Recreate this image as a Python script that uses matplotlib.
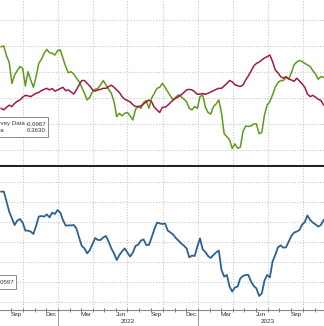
import matplotlib
matplotlib.use("Agg")
import matplotlib.pyplot as plt
import matplotlib.dates as mdates
from matplotlib.patches import Rectangle
import pandas as pd

plt.rcParams['font.family'] = ['Liberation Sans', 'DejaVu Sans']

# weekly observations
dates = pd.date_range('2021-08-06', periods=121, freq='7D')

survey = [
    0.97, 1.00, 0.62, 0.36, -0.44, -0.12, 0.05, 0.21, 0.14, -0.54,
    0.01, -0.31, -0.59, -0.18, 0.33, 0.49, 0.72, 0.87, 0.74, 0.72,
    0.65, 0.82, 0.85, 0.53, 0.21, -0.03, 0.01, -0.08, -0.24, -0.37,
    -0.59, -0.82, -1.08, -0.97, -0.76, -0.67, -0.63, -0.50, -0.33, -0.50,
    -0.67, -0.82, -1.14, -1.72, -1.59, -1.69, -1.59, -1.56, -1.69, -1.85,
    -1.44, -1.33, -1.40, -1.18, -1.10, -1.40, -1.01, -0.82, -0.63, -0.59,
    -0.44, -0.59, -0.76, -0.92, -1.08, -0.97, -0.88, -0.95, -1.05, -1.14,
    -1.40, -1.46, -1.33, -1.40, -0.95, -0.88, -1.36, -1.56, -1.62, -1.33,
    -1.23, -1.08, -1.59, -2.38, -2.49, -2.62, -2.94, -2.77, -2.94, -2.90,
    -2.29, -2.08, -2.10, -2.08, -2.00, -2.00, -2.38, -2.33, -1.65, -1.27,
    -1.14, -0.88, -0.59, -0.41, -0.33, -0.33, -0.21, -0.28, -0.03, 0.27,
    0.38, 0.44, 0.40, 0.33, 0.27, 0.21, 0.05, -0.08, -0.28, -0.18,
    -0.21,
]

beta = [
    -1.40, -1.46, -1.36, -1.28, -1.33, -1.21, -1.13, -1.08, -0.97, -0.90,
    -0.92, -0.95, -0.88, -0.82, -0.79, -0.72, -0.67, -0.63, -0.69, -0.64,
    -0.74, -0.69, -0.64, -0.59, -0.72, -0.69, -0.77, -0.85, -0.69, -0.50,
    -0.33, -0.33, -0.44, -0.54, -0.69, -0.74, -0.69, -0.67, -0.63, -0.63,
    -0.56, -0.51, -0.59, -0.69, -0.79, -0.95, -1.05, -1.10, -1.15, -1.26,
    -1.33, -1.33, -1.31, -1.23, -1.15, -1.08, -1.15, -1.36, -1.46, -1.56,
    -1.36, -1.36, -1.28, -1.18, -1.08, -1.01, -0.95, -0.88, -0.79, -0.69,
    -0.67, -0.69, -0.76, -0.86, -0.85, -0.83, -0.86, -0.82, -0.77, -0.72,
    -0.67, -0.63, -0.63, -0.54, -0.44, -0.33, -0.38, -0.49, -0.53, -0.56,
    -0.50, -0.31, -0.15, 0.03, 0.23, 0.33, 0.38, 0.46, 0.54, 0.59,
    0.65, 0.40, 0.08, -0.03, -0.18, -0.24, -0.18, -0.26, -0.31, -0.36,
    -0.24, -0.35, -0.46, -0.59, -0.85, -0.95, -0.90, -0.97, -1.05, -1.10,
    -1.27,
]

spread = [
    5.52, 5.52, 5.02, 4.52, 4.18, 3.85, 4.07, 4.15, 3.97, 3.57,
    3.57, 3.52, 3.40, 3.80, 4.27, 4.30, 4.27, 4.38, 4.23, 4.47,
    4.40, 4.60, 4.47, 4.10, 3.82, 3.83, 3.83, 3.85, 3.68, 3.23,
    2.80, 2.68, 2.43, 2.60, 2.90, 3.20, 3.10, 3.10, 3.23, 3.30,
    3.02, 2.68, 2.43, 2.10, 2.35, 2.53, 2.68, 2.47, 2.27, 2.47,
    2.80, 2.87, 3.07, 3.13, 2.85, 2.85, 3.23, 3.63, 3.97, 3.93,
    3.90, 3.93, 3.57, 3.48, 3.37, 3.20, 3.07, 2.93, 2.82, 2.68,
    2.23, 2.32, 2.30, 2.77, 3.18, 2.63, 2.50, 2.30, 2.20, 2.35,
    2.48, 2.57, 1.60, 1.27, 1.35, 0.77, 0.52, 0.73, 0.77, 1.18,
    1.30, 1.35, 1.35, 1.02, 0.80, 0.68, 0.30, 0.43, 1.07, 1.35,
    1.23, 2.02, 2.35, 2.73, 2.83, 2.72, 2.73, 3.02, 3.30, 3.47,
    3.52, 3.60, 3.87, 4.00, 4.33, 4.10, 3.97, 3.88, 3.77, 3.85,
    4.10,
]

legend_top = [('Survey Data', '-0.6967'), ('Beta', '0.3630')]
legend_bottom = [('Spread', '-0.0597')]
years = [2022, 2023]

W, H = 324, 326
GREEN = '#5f9a1c'
MAROON = '#a01a44'
BLUE = '#2b6291'
GRID = '#c8c8c8'


def fx(px):
    return px / W


def fy(py):
    return 1 - py / H


fig = plt.figure(figsize=(W / 100, H / 100), dpi=100)
ax1 = fig.add_axes([0, fy(166), 1, 166 / H])
ax2 = fig.add_axes([0, fy(310), 1, 143 / H])

xmin, xmax = pd.Timestamp('2021-08-03'), pd.Timestamp('2023-11-25')
quarters = pd.date_range('2021-10-01', '2023-10-01', freq='QS')

for ax in (ax1, ax2):
    ax.set_xlim(xmin, xmax)
    for s in ('left', 'right', 'top'):
        ax.spines[s].set_visible(False)
    for q in quarters:
        ax.axvline(q, color=GRID, lw=0.8, ls=(0, (1, 1.5)), zorder=0)
    ax.tick_params(left=False, labelleft=False)

# top panel
ax1.set_ylim(-3.62, 2.77)
for v in [2, 1, 0, -1, -2, -3]:
    ax1.axhline(v, color=GRID, lw=0.8, ls=(0, (1, 1.5)), zorder=0)
ax1.plot(dates, beta, color=MAROON, lw=1.1, zorder=3)
ax1.plot(dates, survey, color=GREEN, lw=1.1, zorder=2)
ax1.spines['bottom'].set_color('#222222')
ax1.spines['bottom'].set_linewidth(2.2)
ax1.tick_params(bottom=False, labelbottom=False)

# bottom panel
ax2.set_ylim(-0.4, 6.75)
for v in range(0, 7):
    ax2.axhline(v, color=GRID, lw=0.8, ls=(0, (1, 1.5)), zorder=0)
ax2.plot(dates, spread, color=BLUE, lw=1.3, zorder=2)
ax2.spines['bottom'].set_color('#8a8a8a')
ax2.spines['bottom'].set_linewidth(0.8)

ax2.xaxis.set_major_locator(mdates.MonthLocator(bymonth=(3, 6, 9, 12), bymonthday=15))
ax2.xaxis.set_major_formatter(mdates.DateFormatter('%b'))
ax2.xaxis.set_minor_locator(mdates.MonthLocator())
ax2.tick_params(axis='x', which='major', length=0, pad=1.5, labelsize=4.6,
                labelcolor='#333333')
ax2.tick_params(axis='x', which='minor', length=2.2, direction='inout',
                width=0.6, color='#666666')

for y in years:
    ax2.plot([pd.Timestamp(f'{y}-01-01')] * 2, [0, -0.14], color='#888888',
             lw=0.6, transform=ax2.get_xaxis_transform(), clip_on=False)
    ax2.text(pd.Timestamp(f'{y}-07-01'), -0.083, str(y), fontsize=4.6,
             color='#333333', ha='center', va='center',
             transform=ax2.get_xaxis_transform())

# legend boxes, cut off at the left edge
fig.patches.append(Rectangle((fx(-60), fy(137)), fx(108), 20 / H,
                             transform=fig.transFigure, facecolor='white',
                             edgecolor='#8a8a8a', lw=0.7, zorder=5))
for i, (name, val) in enumerate(legend_top):
    yy = fy(124 + 7 * i)
    fig.text(fx(-9), yy, name, fontsize=4.4, color='#333333', ha='left',
             va='center', zorder=6)
    fig.text(fx(46), yy, val, fontsize=4.4, color='#333333', ha='right',
             va='center', zorder=6)

fig.patches.append(Rectangle((fx(-60), fy(289)), fx(76), 14 / H,
                             transform=fig.transFigure, facecolor='white',
                             edgecolor='#8a8a8a', lw=0.7, zorder=5))
for name, val in legend_bottom:
    fig.text(fx(-40), fy(282), name, fontsize=4.4, color='#333333',
             ha='left', va='center', zorder=6)
    fig.text(fx(14), fy(282), val, fontsize=4.4, color='#333333',
             ha='right', va='center', zorder=6)

fig.savefig('out.png', dpi=100)
